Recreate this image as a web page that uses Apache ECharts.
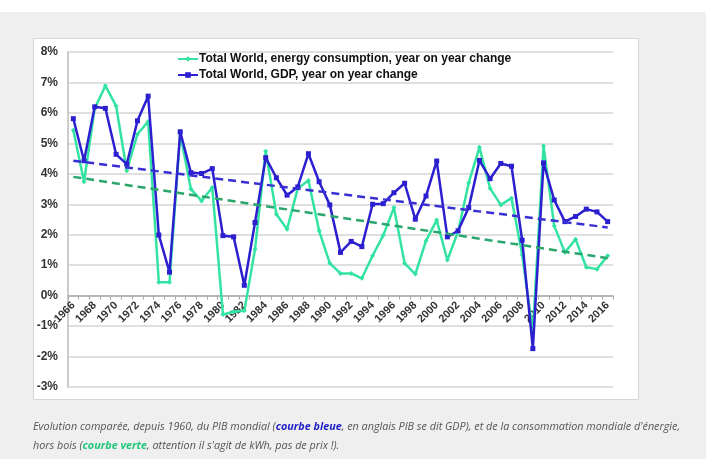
<!DOCTYPE html>
<html>
<head>
<meta charset="utf-8">
<script src="https://cdn.jsdelivr.net/npm/echarts@6/dist/echarts.min.js"></script>
<style>
  body { margin: 0; background: #efefef; width: 706px; height: 459px; overflow: hidden; position: relative; }
  #top { position: absolute; left: 0; top: 0; width: 706px; height: 12px; background: #fff; }
  #box { position: absolute; left: 33px; top: 38px; width: 604px; height: 360px; background: #fff; border: 1px solid #d6d6d6; }
  #chart { position: absolute; left: 0; top: 0; width: 706px; height: 459px; }
  #caption { position: absolute; left: 33px; top: 416px; width: 660px; font-family: "Open Sans", sans-serif; font-style: italic; font-size: 10.8px; line-height: 19px; color: #555; }
  #caption .b { color: #1d1dc8; font-weight: bold; }
  #caption .g { color: #1fc77a; font-weight: bold; }
</style>
</head>
<body>
<div id="top"></div>
<div id="box"></div>
<div id="chart"></div>
<div id="caption">Evolution comparée, depuis 1960, du PIB mondial (<span class="b">courbe bleue</span>, en anglais PIB se dit GDP), et de la consommation mondiale d'énergie, hors bois (<span class="g">courbe verte</span>, attention il s'agit de kWh, pas de prix !).</div>
<script>
const years = [];
for (let y = 1966; y <= 2016; y++) years.push(String(y));

const energy = [5.43, 3.74, 6.15, 6.89, 6.23, 4.10, 5.30, 5.72, 0.44, 0.44,
  5.32, 3.50, 3.11, 3.55, -0.62, -0.53, -0.50, 1.52, 4.74, 2.67,
  2.18, 3.52, 3.78, 2.13, 1.06, 0.73, 0.73, 0.57, 1.31, 1.98,
  2.89, 1.06, 0.71, 1.80, 2.48, 1.17, 2.10, 3.71, 4.87, 3.52,
  2.98, 3.20, 1.34, -1.20, 4.91, 2.29, 1.42, 1.85, 0.93, 0.87, 1.31];

const gdp = [5.81, 4.43, 6.20, 6.15, 4.64, 4.32, 5.74, 6.55, 1.99, 0.77,
  5.38, 4.04, 4.01, 4.17, 1.97, 1.93, 0.34, 2.40, 4.53, 3.87,
  3.30, 3.57, 4.66, 3.74, 2.98, 1.42, 1.78, 1.61, 3.00, 3.02,
  3.38, 3.69, 2.51, 3.27, 4.42, 1.93, 2.13, 2.89, 4.44, 3.84,
  4.34, 4.25, 1.82, -1.74, 4.36, 3.14, 2.43, 2.60, 2.84, 2.75, 2.43];

// trend lines: start / end values
const energyTrend = [3.90, 1.23];
const gdpTrend = [4.43, 2.24];

const yMin = -3, yMax = 8;

const greenLine = '#33e3a2';
const greenTrend = '#2aa56c';
const blueLine = '#2b1fd0';
const blueTrend = '#3a2fd4';

const gridTop = 52, gridBottom = 72;
const plotH = 459 - gridTop - gridBottom;
// move the category axis up to the 0% line
const zeroOffset = -plotH * (0 - yMin) / (yMax - yMin);

const chart = echarts.init(document.getElementById('chart'));

function trend(vals, color) {
  return {
    silent: true,
    symbol: ['none', 'arrow'],
    symbolSize: [0, 11],
    label: { show: false },
    lineStyle: { color: color, width: 2.5, type: [8, 5] },
    data: [[
      { coord: [years[0], vals[0]] },
      { coord: [years[years.length - 1], vals[1]] }
    ]]
  };
}

chart.setOption({
  animation: false,
  textStyle: { fontFamily: 'Liberation Sans, Arial, sans-serif' },
  grid: { left: 68, right: 93, top: gridTop, bottom: gridBottom },
  legend: {
    orient: 'vertical',
    left: 172,
    top: 47,
    itemWidth: 20,
    itemHeight: 7,
    itemGap: 2,
    textStyle: { fontSize: 12, fontWeight: 'bold', color: '#111', padding: [0, 0, 0, -4], height: 14, lineHeight: 14 },
    data: ['Total World, energy consumption, year on year change', 'Total World, GDP, year on year change']
  },
  xAxis: {
    type: 'category',
    data: years,
    offset: zeroOffset,
    axisLine: { onZero: false, lineStyle: { color: '#aaa', width: 1.5 } },
    axisTick: { show: true, interval: 0, length: 4, lineStyle: { color: '#aaa' } },
    axisLabel: { interval: 1, rotate: 45, fontSize: 11, fontWeight: 'bold', color: '#333', margin: 8 },
    splitLine: { show: false }
  },
  yAxis: {
    type: 'value',
    min: yMin,
    max: yMax,
    interval: 1,
    axisLine: { show: true, lineStyle: { color: '#bbb', width: 1.5 } },
    axisTick: { show: false },
    axisLabel: { formatter: '{value}%', fontSize: 12, fontWeight: 'bold', color: '#333', margin: 10 },
    splitLine: { lineStyle: { color: '#d4d4d4', width: 1.5 } }
  },
  series: [
    {
      name: 'Total World, energy consumption, year on year change',
      type: 'line',
      data: energy,
      symbol: 'diamond',
      symbolSize: 5,
      itemStyle: { color: greenLine },
      lineStyle: { color: greenLine, width: 2.5 },
      markLine: trend(energyTrend, greenTrend),
      z: 2
    },
    {
      name: 'Total World, GDP, year on year change',
      type: 'line',
      data: gdp,
      symbol: 'rect',
      symbolSize: 5,
      itemStyle: { color: blueLine },
      lineStyle: { color: blueLine, width: 2.5 },
      markLine: trend(gdpTrend, blueTrend),
      z: 3
    }
  ]
});
</script>
</body>
</html>
